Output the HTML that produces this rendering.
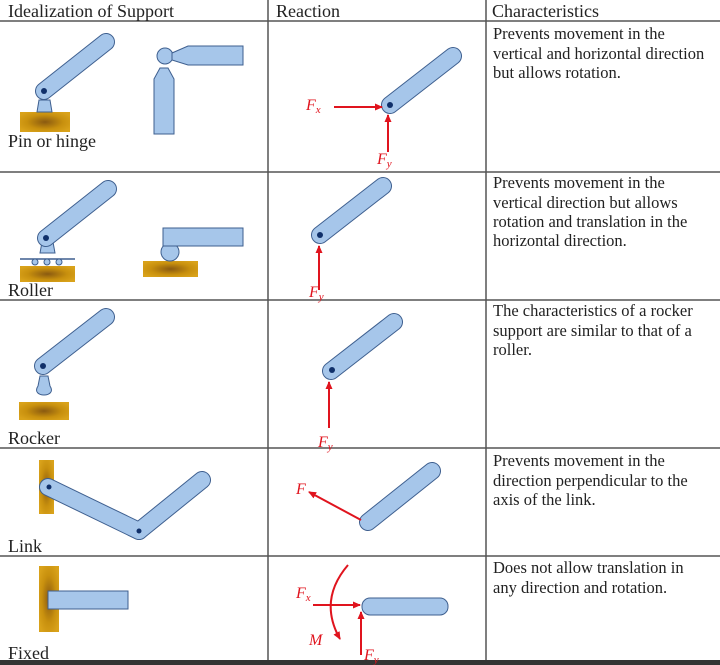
<!DOCTYPE html>
<html><head><style>
html,body{margin:0;padding:0;background:#fff;}
svg{display:block;}
text{font-family:"Liberation Serif",serif;}
</style></head><body>
<svg width="720" height="665" viewBox="0 0 720 665" xmlns="http://www.w3.org/2000/svg">
<defs>
<radialGradient id="g" cx="50%" cy="50%" r="60%">
<stop offset="0" stop-color="#8a5a10"/><stop offset="0.6" stop-color="#c8900e"/><stop offset="1" stop-color="#d9a21a"/>
</radialGradient>
<marker id="ah" markerWidth="8" markerHeight="8" refX="7" refY="4" orient="auto" markerUnits="userSpaceOnUse">
<path d="M0,0.5 L8,4 L0,7.5 z" fill="#e0141e"/></marker>
</defs>
<g stroke="#555" stroke-width="1.5">
<line x1="0" y1="21" x2="720" y2="21"/>
<line x1="0" y1="172" x2="720" y2="172"/>
<line x1="0" y1="300" x2="720" y2="300"/>
<line x1="0" y1="448" x2="720" y2="448"/>
<line x1="0" y1="556" x2="720" y2="556"/>
<line x1="268" y1="0" x2="268" y2="665"/>
<line x1="486" y1="0" x2="486" y2="665"/>
</g>
<rect x="0" y="660" width="720" height="5" fill="#333"/>
<g font-size="18" fill="#222">
<text x="8" y="17">Idealization of Support</text>
<text x="276" y="17">Reaction</text>
<text x="492" y="17">Characteristics</text>
</g>
<g font-size="18" fill="#222">
<text x="8" y="147">Pin or hinge</text>
<text x="8" y="296">Roller</text>
<text x="8" y="444">Rocker</text>
<text x="8" y="552">Link</text>
<text x="8" y="659">Fixed</text>
</g>
<g font-size="16.5" fill="#222">
<text x="493" y="39">Prevents movement in the</text>
<text x="493" y="59">vertical and horizontal direction</text>
<text x="493" y="78">but allows rotation.</text>
<text x="493" y="188">Prevents movement in the</text>
<text x="493" y="208">vertical direction but allows</text>
<text x="493" y="227">rotation and translation in the</text>
<text x="493" y="246">horizontal direction.</text>
<text x="493" y="316">The characteristics of a rocker</text>
<text x="493" y="336">support are similar to that of a</text>
<text x="493" y="355">roller.</text>
<text x="493" y="466">Prevents movement in the</text>
<text x="493" y="486">direction perpendicular to the</text>
<text x="493" y="505">axis of the link.</text>
<text x="493" y="573">Does not allow translation in</text>
<text x="493" y="593">any direction and rotation.</text>
</g>
<g fill="url(#g)">
<rect x="20" y="112" width="50" height="20"/>
<rect x="20" y="266" width="55" height="16"/>
<rect x="143" y="261" width="55" height="16"/>
<rect x="19" y="402" width="50" height="18"/>
<rect x="39" y="460" width="15" height="54"/>
<rect x="39" y="566" width="20" height="66"/>
</g>
<g fill="#a6c6ea" stroke="#3e5f8f" stroke-width="1">
<path d="M37,112 L39,100 L50,100 L52,112 z"/>
<path d="M40,253 L42,242 L53,242 L55,253 z"/>
<line x1="20" y1="259" x2="75" y2="259" stroke-width="1.5"/>
<circle cx="35" cy="262" r="3"/><circle cx="47" cy="262" r="3"/><circle cx="59" cy="262" r="3"/>
<circle cx="170" cy="252" r="9"/>
<circle cx="165" cy="56" r="8"/>
<path d="M172,53 L188,46 L243,46 L243,65 L188,65 L172,60 z"/>
<path d="M154,79 L160,68 L168,68 L174,79 L174,134 L154,134 z"/>
<path d="M38,386 C30,398 58,398 50,386 L48,376 L40,376 z"/>
<rect x="163" y="228" width="80" height="18"/>
<rect x="48" y="591" width="80" height="18"/>
<rect x="362" y="598" width="86" height="17" rx="8"/>
</g>
<g stroke-linecap="round">
<g stroke="#3e5f8f" stroke-width="18">
<line x1="44" y1="91" x2="106" y2="42"/>
<line x1="46" y1="238" x2="108" y2="189"/>
<line x1="43" y1="366" x2="106" y2="317"/>
<line x1="390" y1="105" x2="453" y2="56"/>
<line x1="320" y1="235" x2="383" y2="186"/>
<line x1="331" y1="371" x2="394" y2="322"/>
<line x1="368" y1="522" x2="432" y2="471"/>
<line x1="48" y1="487" x2="139" y2="531"/>
<line x1="139" y1="531" x2="202" y2="480"/>
</g>
<g stroke="#a6c6ea" stroke-width="16">
<line x1="44" y1="91" x2="106" y2="42"/>
<line x1="46" y1="238" x2="108" y2="189"/>
<line x1="43" y1="366" x2="106" y2="317"/>
<line x1="390" y1="105" x2="453" y2="56"/>
<line x1="320" y1="235" x2="383" y2="186"/>
<line x1="331" y1="371" x2="394" y2="322"/>
<line x1="368" y1="522" x2="432" y2="471"/>
<line x1="48" y1="487" x2="139" y2="531"/>
<line x1="139" y1="531" x2="202" y2="480"/>
</g>
</g>
<g fill="#10306a">
<circle cx="44" cy="91" r="3"/><circle cx="46" cy="238" r="3"/><circle cx="43" cy="366" r="3"/>
<circle cx="390" cy="105" r="3"/><circle cx="320" cy="235" r="3"/><circle cx="332" cy="370" r="3"/>
<circle cx="49" cy="487" r="2.5"/><circle cx="139" cy="531" r="2.5"/>
</g>
<g stroke="#e0141e" stroke-width="2" fill="none" marker-end="url(#ah)">
<line x1="334" y1="107" x2="382" y2="107"/>
<line x1="388" y1="152" x2="388" y2="115"/>
<line x1="319" y1="290" x2="319" y2="246"/>
<line x1="329" y1="428" x2="329" y2="382"/>
<line x1="361" y1="520" x2="309" y2="492"/>
<line x1="313" y1="605" x2="360" y2="605"/>
<line x1="361" y1="655" x2="361" y2="612"/>
<path d="M348,565 Q318,600 340,639"/>
</g>
<g fill="#e0141e" font-style="italic" font-size="16">
<text x="306" y="110">F<tspan font-size="11" dy="3">x</tspan></text>
<text x="377" y="164">F<tspan font-size="11" dy="3">y</tspan></text>
<text x="309" y="297">F<tspan font-size="11" dy="3">y</tspan></text>
<text x="318" y="447">F<tspan font-size="11" dy="3">y</tspan></text>
<text x="296" y="494">F</text>
<text x="296" y="598">F<tspan font-size="11" dy="3">x</tspan></text>
<text x="309" y="645">M</text>
<text x="364" y="660">F<tspan font-size="11" dy="3">y</tspan></text>
</g>
</svg>
</body></html>
